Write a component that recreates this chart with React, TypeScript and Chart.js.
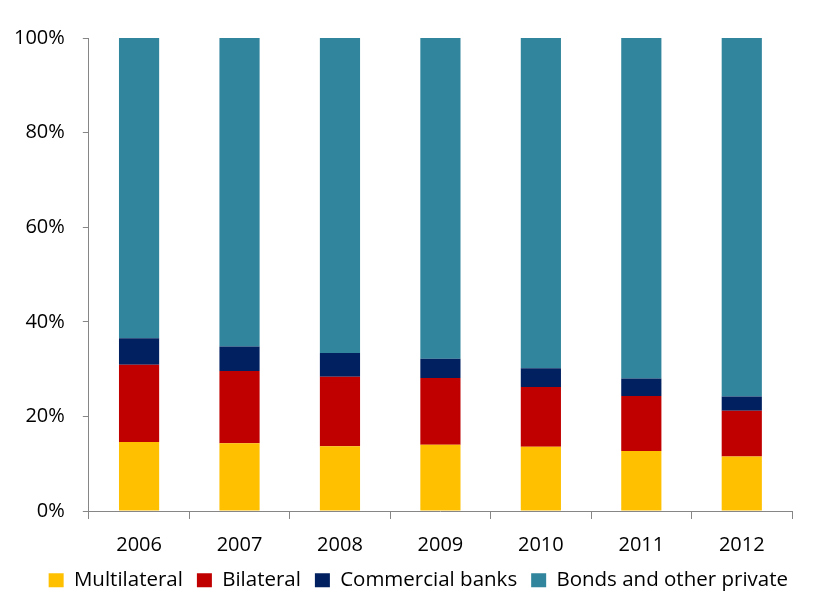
import React, { useEffect, useRef } from "react";
import { Chart, registerables } from "chart.js";

Chart.register(...registerables);

const years = ["2006", "2007", "2008", "2009", "2010", "2011", "2012"];
const multilateral = [14.6, 14.3, 13.7, 14.0, 13.6, 12.7, 11.5];
const bilateral = [16.3, 15.3, 14.7, 14.1, 12.6, 11.6, 9.7];
const commercialBanks = [5.6, 5.2, 5.0, 4.1, 4.0, 3.7, 3.0];
const bondsPrivate = [63.5, 65.2, 66.6, 67.8, 69.8, 72.0, 75.8];
const yTicks = [0, 20, 40, 60, 80, 100];

const FONT = "'Open Sans', sans-serif";
const AXIS = "#868686";

const legendShift = {
  id: "legendShift",
  afterLayout(chart: any) {
    if (chart.legend) {
      chart.legend.left += 10;
      chart.legend.right += 10;
    }
  },
};

export default function App() {
  const ref = useRef<HTMLCanvasElement | null>(null);
  useEffect(() => {
    if (!ref.current) return;
    const mk = (label: string, data: number[], color: string) => ({
      label,
      data,
      backgroundColor: color,
      borderWidth: 0,
      barPercentage: 0.4,
      categoryPercentage: 1,
    });
    const chart = new Chart(ref.current, {
      type: "bar",
      data: {
        labels: years,
        datasets: [
          mk("Multilateral", multilateral, "#FFC000"),
          mk("Bilateral", bilateral, "#C00000"),
          mk("Commercial banks", commercialBanks, "#002060"),
          mk("Bonds and other private", bondsPrivate, "#31859C"),
        ],
      },
      plugins: [legendShift],
      options: {
        animation: false,
        responsive: true,
        maintainAspectRatio: false,
        layout: { padding: { left: -4, right: 22, top: 38, bottom: -5.5 } },
        plugins: {
          tooltip: { enabled: false },
          legend: {
            position: "bottom",
            align: "end",
            labels: {
              font: { family: FONT, size: 20.5 },
              color: "#000",
              boxWidth: 15,
              boxHeight: 14,
              padding: 14,
            },
          },
        },
        scales: {
          x: {
            stacked: true,
            afterFit: (scale: any) => {
              scale.height = 45;
            },
            grid: {
              display: true,
              offset: true,
              drawOnChartArea: false,
              drawTicks: true,
              tickLength: 8,
              color: AXIS,
            },
            border: { display: true, color: AXIS, width: 1 },
            ticks: {
              font: { family: FONT, size: 20 },
              color: "#000",
              padding: 14,
            },
          },
          y: {
            stacked: true,
            min: 0,
            max: 100,
            afterBuildTicks: (axis: any) => {
              axis.ticks = yTicks.map((v) => ({ value: v }));
            },
            grid: {
              display: true,
              drawOnChartArea: false,
              drawTicks: true,
              tickLength: 6,
              color: AXIS,
            },
            border: { display: true, color: AXIS, width: 1 },
            ticks: {
              font: { family: FONT, size: 20 },
              color: "#000",
              padding: 18,
              callback: (v: any) => v + "%",
            },
          },
        },
      },
    });
    return () => chart.destroy();
  }, []);
  return (
    <div style={{ position: "fixed", left: 0, top: 0, width: 814, height: 595, background: "#fff" }}>
      <canvas ref={ref} />
    </div>
  );
}
